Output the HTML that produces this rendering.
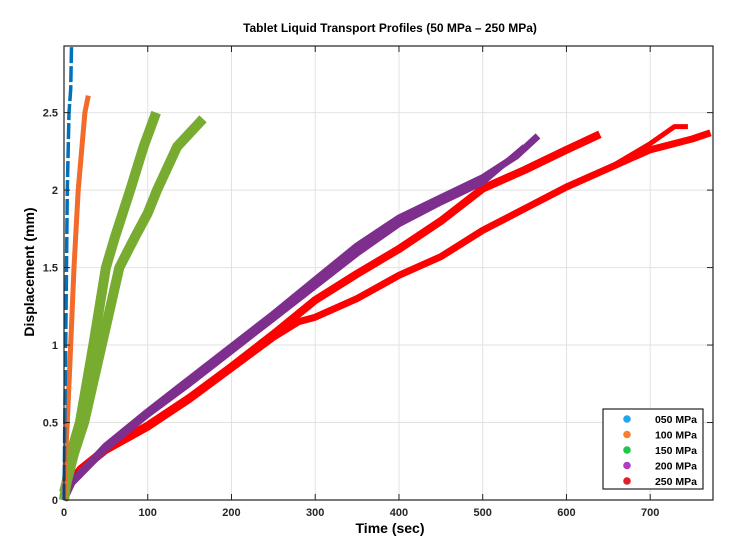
<!DOCTYPE html>
<html><head><meta charset="utf-8"><style>
body{margin:0;background:#fff;}
svg{display:block;font-family:"Liberation Sans",Arial,sans-serif;}
</style></head><body>
<svg id="chart" width="750" height="550" viewBox="0 0 750 550">
<rect width="750" height="550" fill="#fff"/>
<text x="390" y="32" text-anchor="middle" font-size="12" font-weight="bold">Tablet Liquid Transport Profiles (50 MPa – 250 MPa)</text>
<text x="390" y="533" text-anchor="middle" font-size="14" font-weight="bold">Time (sec)</text>
<text transform="translate(34,272) rotate(-90)" text-anchor="middle" font-size="14" font-weight="bold">Displacement (mm)</text>
<g id="grid"></g><g id="series"></g><g id="axes"></g>
</svg>
<script>
const xTicks=[0,100,200,300,400,500,600,700];
const yTicks=[0,0.5,1,1.5,2,2.5];
const yTickLabels=["0","0.5","1","1.5","2","2.5"];
const s050=[[0,0],[1,0.5],[2,1.0],[3,1.5],[4,2.0],[6,2.5],[8,2.65],[9,2.93]];
const s100=[[0,0],[2,0.3],[4,0.5],[8,1.0],[12,1.5],[17,2.0],[25,2.5],[29,2.61]];
const s150a=[[0,0],[8,0.3],[19,0.5],[35,1.0],[50,1.5],[61,1.7],[79,2.0],[95,2.28],[110,2.5]];
const s150b=[[0,0.05],[12,0.3],[24,0.5],[45,1.0],[66,1.5],[85,1.7],[100,1.85],[111,2.0],[135,2.28],[166,2.46]];
const s200a=[[0,0],[10,0.12],[50,0.35],[100,0.57],[150,0.78],[200,0.99],[250,1.2],[300,1.42],[350,1.64],[400,1.82],[450,1.95],[500,2.08],[540,2.22],[566,2.35]];
const s200b=[[0,0],[10,0.11],[50,0.33],[100,0.55],[150,0.75],[200,0.96],[250,1.17],[300,1.38],[350,1.59],[400,1.78],[450,1.92],[500,2.05],[550,2.28]];
const s250a=[[0,0],[5,0.1],[20,0.2],[50,0.33],[100,0.48],[150,0.66],[200,0.86],[250,1.07],[300,1.29],[350,1.46],[400,1.62],[450,1.8],[500,2.01],[550,2.13],[600,2.26],[640,2.36]];
const s250b=[[0,0],[5,0.09],[20,0.19],[50,0.32],[100,0.47],[150,0.65],[200,0.85],[250,1.05],[280,1.15],[300,1.18],[350,1.3],[400,1.45],[450,1.57],[500,1.74],[550,1.88],[600,2.02],[650,2.14],[700,2.26],[750,2.33],[772,2.37]];
const s250c=[[650,2.14],[700,2.3],[729,2.41],[745,2.41]];
const seriesList=[
 {d:s250b,c:"#ff0000",w:7,n:"series-250-run-b"},{d:s250c,c:"#ff0000",w:5,n:"series-250-run-c"},
 {d:s250a,c:"#ff0000",w:8,n:"series-250-run-a"},
 {d:s200b,c:"#7e2f8e",w:6,n:"series-200-run-b"},{d:s200a,c:"#7e2f8e",w:7,n:"series-200-run-a"},
 {d:s150a,c:"#77ac30",w:10,n:"series-150-run-a"},{d:s150b,c:"#77ac30",w:10,n:"series-150-run-b"},
 {d:s100,c:"#f26b2a",w:5,n:"series-100"},{d:s050,c:"#0072bd",w:3.5,n:"series-050",dash:"16 3"}
];
const legendLabels=["050 MPa","100 MPa","150 MPa","200 MPa","250 MPa"];
const legendColors=["#22a7ee","#f5822f","#22c64a","#ad3fc0","#e21f26"];
const X0=64,X1=713,Y0=500,Y1=46,XMAX=775,YMAX=2.93;
const sx=v=>X0+v/XMAX*(X1-X0), sy=v=>Y0-v/YMAX*(Y0-Y1);
const NS="http://www.w3.org/2000/svg";
function mk(t,a,p){const e=document.createElementNS(NS,t);for(const k in a)e.setAttribute(k,a[k]);p.appendChild(e);return e;}
const grid=document.getElementById('grid'),axes=document.getElementById('axes'),ser=document.getElementById('series');
xTicks.forEach(t=>{
 const g=mk('line',{x1:sx(t),x2:sx(t),y1:Y1,y2:Y0,stroke:"#e2e2e2","stroke-width":1},grid);
 
 
 const tk=mk('line',{x1:sx(t),x2:sx(t),y1:Y0,y2:Y0-6,stroke:"#222","stroke-width":1},axes);
 
 
 const tk2=mk('line',{x1:sx(t),x2:sx(t),y1:Y1,y2:Y1+6,stroke:"#222","stroke-width":1},axes);
 
 
 const l=mk('text',{x:sx(t),y:Y0+16,"text-anchor":"middle","font-size":11,"font-weight":"bold",fill:"#262626"},axes);
 l.textContent=t;
 
 
});
yTicks.forEach((t,i)=>{
 const g=mk('line',{x1:X0,x2:X1,y1:sy(t),y2:sy(t),stroke:"#e2e2e2","stroke-width":1},grid);
 
 
 const tk=mk('line',{x1:X0,x2:X0+6,y1:sy(t),y2:sy(t),stroke:"#222","stroke-width":1},axes);
 
 
 const tk2=mk('line',{x1:X1,x2:X1-6,y1:sy(t),y2:sy(t),stroke:"#222","stroke-width":1},axes);
 
 
 const l=mk('text',{x:X0-6,y:sy(t)+4,"text-anchor":"end","font-size":11,"font-weight":"bold",fill:"#262626"},axes);
 l.textContent=yTickLabels[i];
 
 
});
seriesList.forEach(s=>{
 const pts=s.d.map(p=>sx(p[0]).toFixed(1)+","+sy(p[1]).toFixed(1)).join(" ");
 const a={points:pts,fill:"none",stroke:s.c,"stroke-width":s.w,"stroke-linejoin":"round","stroke-linecap":"butt"};
 if(s.dash)a["stroke-dasharray"]=s.dash;
 const pl=mk('polyline',a,ser);
 
 
});
const box=mk('rect',{x:X0,y:Y1,width:X1-X0,height:Y0-Y1,fill:"none",stroke:"#222","stroke-width":1.2},axes);


const lg=mk('g',{},axes);


mk('rect',{x:603,y:409,width:100,height:80,fill:"#fff",stroke:"#222","stroke-width":1.2},lg);
legendLabels.forEach((t,i)=>{
 const y=419+i*15.5;
 const e=mk('g',{},lg);
 
 
 mk('circle',{cx:627,cy:y,r:3.8,fill:legendColors[i]},e);
 const tx=mk('text',{x:697,y:y+4,"text-anchor":"end","font-size":10.5,"font-weight":"bold"},e);
 tx.textContent=t;
});
</script>
</body></html>
